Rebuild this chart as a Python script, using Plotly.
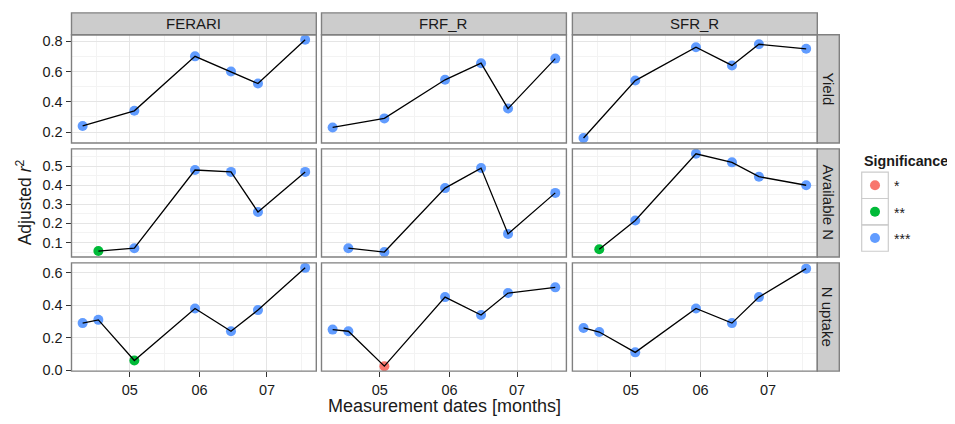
import pandas as pd
import plotly.graph_objects as go

# The page body has an 8 px margin, so the figure is drawn 8 px smaller and
# all reference pixel positions are shifted by that offset.
OFF = 8
W, H = 955 - OFF, 424 - OFF

# ---------------- data ----------------
dates = ["2013-04-10", "2013-04-17", "2013-05-03", "2013-05-30",
         "2013-06-15", "2013-06-27", "2013-07-18"]
sites = ["FERARI", "FRF_R", "SFR_R"]
variables = ["Yield", "Available N", "N uptake"]
sig_levels = ["*", "**", "***"]
sig_colors = ["#F8766D", "#00BA38", "#619CFF"]

x_tickvals = ["2013-05-01", "2013-06-01", "2013-07-01"]
x_ticktext = ["05", "06", "07"]

yield_ticks = [0.2, 0.4, 0.6, 0.8]
yield_ticktext = ["0.2", "0.4", "0.6", "0.8"]
availn_ticks = [0.1, 0.2, 0.3, 0.4, 0.5]
availn_ticktext = ["0.1", "0.2", "0.3", "0.4", "0.5"]
nupt_ticks = [0.0, 0.2, 0.4, 0.6]
nupt_ticktext = ["0.0", "0.2", "0.4", "0.6"]

# adjusted r^2 (None = no measurement on that date)
yield_ferari = [0.24, None, 0.34, 0.70, 0.60, 0.52, 0.81]
yield_frf = [0.23, None, 0.29, 0.545, 0.655, 0.355, 0.685]
yield_sfr = [0.16, None, 0.54, 0.76, 0.64, 0.78, 0.75]
availn_ferari = [None, 0.055, 0.07, 0.48, 0.47, 0.26, 0.47]
availn_frf = [None, 0.07, 0.05, 0.385, 0.49, 0.145, 0.36]
availn_sfr = [None, 0.065, 0.215, 0.565, 0.52, 0.445, 0.40]
nupt_ferari = [0.29, 0.31, 0.06, 0.38, 0.24, 0.37, 0.63]
nupt_frf = [0.25, 0.24, 0.025, 0.45, 0.34, 0.475, 0.51]
nupt_sfr = [0.26, 0.235, 0.11, 0.38, 0.29, 0.45, 0.625]

# significance of each value
sig_yield_ferari = ["***", None, "***", "***", "***", "***", "***"]
sig_yield_frf = ["***", None, "***", "***", "***", "***", "***"]
sig_yield_sfr = ["***", None, "***", "***", "***", "***", "***"]
sig_availn_ferari = [None, "**", "***", "***", "***", "***", "***"]
sig_availn_frf = [None, "***", "***", "***", "***", "***", "***"]
sig_availn_sfr = [None, "**", "***", "***", "***", "***", "***"]
sig_nupt_ferari = ["***", "***", "**", "***", "***", "***", "***"]
sig_nupt_frf = ["***", "***", "*", "***", "***", "***", "***"]
sig_nupt_sfr = ["***", "***", "***", "***", "***", "***", "***"]

values = [
    [yield_ferari, yield_frf, yield_sfr],
    [availn_ferari, availn_frf, availn_sfr],
    [nupt_ferari, nupt_frf, nupt_sfr],
]
sigs = [
    [sig_yield_ferari, sig_yield_frf, sig_yield_sfr],
    [sig_availn_ferari, sig_availn_frf, sig_availn_sfr],
    [sig_nupt_ferari, sig_nupt_frf, sig_nupt_sfr],
]
row_ticks = [(yield_ticks, yield_ticktext), (availn_ticks, availn_ticktext),
             (nupt_ticks, nupt_ticktext)]

# ---------------- layout (reference pixels) ----------------
COL_X = [(71.5, 316.3), (321.5, 566.4), (572.4, 817.3)]
ROW_Y = [(34.3, 144.6), (150.6, 260.8), (266.9, 377.2)]
STRIP_TOP = (12.0, 34.3)
STRIP_RIGHT = (817.3, 839.3)

TXT = "#1A1A1A"
FONT = "Liberation Sans, Arial, sans-serif"
BORDER = "#808080"
MAJOR = "#E5E5E5"
MINOR = "#F3F3F3"


def px_x(p):
    return (p - OFF) / W


def px_y(p):
    return 1 - (p - OFF) / H


# x range with 5% expansion, like ggplot
dts = pd.to_datetime(dates)
span = dts.max() - dts.min()
x_range = [(dts.min() - 0.05 * span).strftime("%Y-%m-%d %H:%M:%S"),
           (dts.max() + 0.05 * span).strftime("%Y-%m-%d %H:%M:%S")]
x_minor = ["2013-04-16", "2013-05-16 12:00", "2013-06-16", "2013-07-16 12:00"]

fig = go.Figure()
layout = dict(
    width=W, height=H,
    margin=dict(l=0, r=0, t=0, b=0, pad=0),
    paper_bgcolor="white", plot_bgcolor="white",
    showlegend=False,
    font=dict(family=FONT, color=TXT),
)
shapes = []
annotations = []

for r, var in enumerate(variables):
    allv = [v for c in range(3) for v in values[r][c] if v is not None]
    lo, hi = min(allv), max(allv)
    ext = 0.05 * (hi - lo)
    y_range = [lo - ext, hi + ext]
    tv, tt = row_ticks[r]
    step = tv[1] - tv[0]
    cand = [tv[0] - step / 2] + [t + step / 2 for t in tv]
    y_minor = [m for m in cand if y_range[0] <= m <= y_range[1]]

    for c, site in enumerate(sites):
        k = r * 3 + c + 1
        xa = "xaxis" if k == 1 else f"xaxis{k}"
        ya = "yaxis" if k == 1 else f"yaxis{k}"
        xr = "x" if k == 1 else f"x{k}"
        yr = "y" if k == 1 else f"y{k}"
        bottom = r == 2
        left = c == 0
        layout[xa] = dict(
            domain=[px_x(COL_X[c][0]), px_x(COL_X[c][1])], anchor=yr,
            type="date", range=x_range,
            tickmode="array", tickvals=x_tickvals, ticktext=x_ticktext,
            showticklabels=bottom, ticks="outside" if bottom else "",
            ticklen=5, tickwidth=1.2, tickcolor="#333333",
            tickfont=dict(size=14.5, color=TXT, family=FONT),
            showgrid=True, gridcolor=MAJOR, gridwidth=1,
            minor=dict(tickmode="array", tickvals=x_minor, showgrid=True,
                       gridcolor=MINOR, gridwidth=1, ticks=""),
            zeroline=False, showline=False, fixedrange=True,
        )
        layout[ya] = dict(
            domain=[px_y(ROW_Y[r][1]), px_y(ROW_Y[r][0])], anchor=xr,
            range=y_range,
            tickmode="array", tickvals=tv, ticktext=tt,
            showticklabels=left, ticks="outside" if left else "",
            ticklen=5, tickwidth=1.2, tickcolor="#333333",
            tickfont=dict(size=14.5, color=TXT, family=FONT),
            showgrid=True, gridcolor=MAJOR, gridwidth=1,
            minor=dict(tickmode="array", tickvals=y_minor, showgrid=True,
                       gridcolor=MINOR, gridwidth=1, ticks=""),
            zeroline=False, showline=False, fixedrange=True,
        )

        vals = values[r][c]
        sg = sigs[r][c]
        for lvl, col in zip(sig_levels, sig_colors):
            xs = [d for d, v, s in zip(dates, vals, sg) if v is not None and s == lvl]
            ys = [v for v, s in zip(vals, sg) if v is not None and s == lvl]
            if xs:
                fig.add_trace(go.Scatter(
                    x=xs, y=ys, mode="markers", xaxis=xr, yaxis=yr,
                    marker=dict(size=10, color=col, line=dict(width=0)),
                    hoverinfo="skip"))
        lx = [d for d, v in zip(dates, vals) if v is not None]
        ly = [v for v in vals if v is not None]
        fig.add_trace(go.Scatter(
            x=lx, y=ly, mode="lines", xaxis=xr, yaxis=yr,
            line=dict(color="black", width=1.3), hoverinfo="skip"))

        # panel border
        shapes.append(dict(type="rect", xref=f"{xr} domain", yref=f"{yr} domain",
                           x0=0, x1=1, y0=0, y1=1, layer="above",
                           line=dict(color=BORDER, width=1.4),
                           fillcolor="rgba(0,0,0,0)"))

# top strips
for c, site in enumerate(sites):
    x0, x1 = COL_X[c]
    shapes.append(dict(type="rect", xref="paper", yref="paper",
                       x0=px_x(x0), x1=px_x(x1),
                       y0=px_y(STRIP_TOP[1]), y1=px_y(STRIP_TOP[0]),
                       fillcolor="#CCCCCC", line=dict(color=BORDER, width=1.4),
                       layer="above"))
    annotations.append(dict(text=site, xref="paper", yref="paper",
                            x=px_x((x0 + x1) / 2), y=px_y(sum(STRIP_TOP) / 2),
                            xanchor="center", yanchor="middle", showarrow=False,
                            font=dict(size=15, color=TXT, family=FONT)))
# right strips
for r, var in enumerate(variables):
    y0, y1 = ROW_Y[r]
    shapes.append(dict(type="rect", xref="paper", yref="paper",
                       x0=px_x(STRIP_RIGHT[0]), x1=px_x(STRIP_RIGHT[1]),
                       y0=px_y(y1), y1=px_y(y0),
                       fillcolor="#CCCCCC", line=dict(color=BORDER, width=1.4),
                       layer="above"))
    annotations.append(dict(text=var, xref="paper", yref="paper",
                            x=px_x(sum(STRIP_RIGHT) / 2), y=px_y((y0 + y1) / 2),
                            xanchor="center", yanchor="middle", showarrow=False,
                            textangle=90,
                            font=dict(size=15, color=TXT, family=FONT)))

# axis titles
annotations.append(dict(text="Adjusted <i>r</i><sup>2</sup>", xref="paper", yref="paper",
                        x=px_x(23.5), y=px_y(205.6), xanchor="center", yanchor="middle",
                        showarrow=False, textangle=-90,
                        font=dict(size=17.5, color=TXT, family=FONT)))
annotations.append(dict(text="Measurement dates [months]", xref="paper", yref="paper",
                        x=px_x(444.3), y=px_y(413), xanchor="center", yanchor="middle",
                        showarrow=False,
                        font=dict(size=18, color=TXT, family=FONT)))

# legend (manual, ggplot style)
KEY_X = (861.7, 888.3)
KEY_Y0, KEY_H = 174.3, 26.9
annotations.append(dict(text="<b>Significance</b>", xref="paper", yref="paper",
                        x=px_x(KEY_X[0]), y=px_y(162.7), xanchor="left", yanchor="middle",
                        showarrow=False, font=dict(size=14.3, color=TXT, family=FONT)))
for i, lvl in enumerate(sig_levels):
    ty0 = KEY_Y0 + i * KEY_H
    shapes.append(dict(type="rect", xref="paper", yref="paper",
                       x0=px_x(KEY_X[0]), x1=px_x(KEY_X[1]),
                       y0=px_y(ty0 + KEY_H), y1=px_y(ty0),
                       fillcolor="rgba(0,0,0,0)", line=dict(color="#CCCCCC", width=1.2),
                       layer="above"))
    annotations.append(dict(text=lvl, xref="paper", yref="paper",
                            x=px_x(892.0), y=px_y(ty0 + KEY_H / 2 + 1), xanchor="left",
                            yanchor="middle", showarrow=False,
                            font=dict(size=14, color=TXT, family=FONT)))
layout["xaxis10"] = dict(domain=[px_x(KEY_X[0]), px_x(KEY_X[1])], anchor="y10",
                         range=[0, 1], visible=False, fixedrange=True)
layout["yaxis10"] = dict(domain=[px_y(KEY_Y0 + 3 * KEY_H), px_y(KEY_Y0)], anchor="x10",
                         range=[2.5, -0.5], visible=False, fixedrange=True)
fig.add_trace(go.Scatter(x=[0.5] * len(sig_levels), y=list(range(len(sig_levels))),
                         mode="markers", xaxis="x10", yaxis="y10",
                         marker=dict(size=10, color=sig_colors, line=dict(width=0)),
                         hoverinfo="skip"))

layout["shapes"] = shapes
layout["annotations"] = annotations
fig.update_layout(**layout)
fig.write_html("out.html", config={"displayModeBar": False})
